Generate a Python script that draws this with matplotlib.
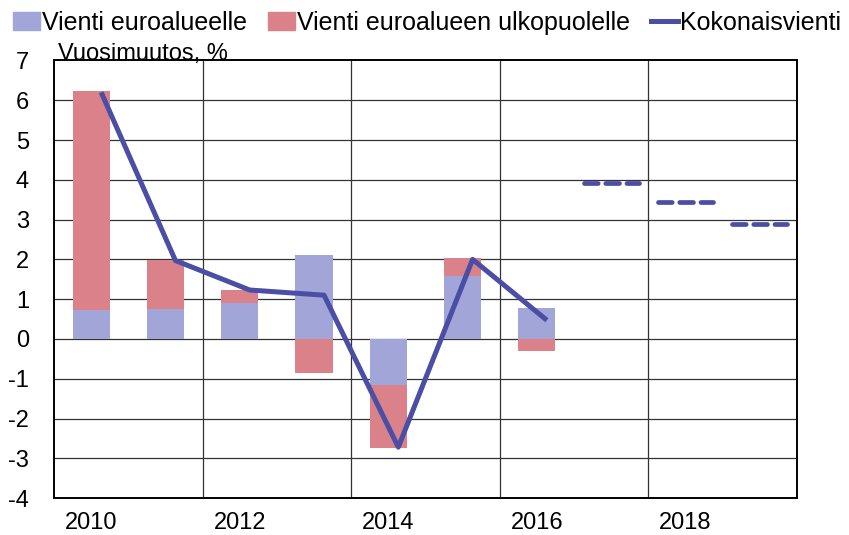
import matplotlib
matplotlib.use("Agg")
import matplotlib.pyplot as plt
from matplotlib.patches import Patch
from matplotlib.lines import Line2D
import numpy as np

plt.rcParams['font.family'] = ['Liberation Sans', 'DejaVu Sans']

years = [2010, 2011, 2012, 2013, 2014, 2015, 2016, 2017, 2018, 2019]
euro_area = [0.72, 0.75, 0.90, 2.11, -1.16, 1.59, 0.78]
outside_euro = [5.50, 1.23, 0.33, -0.86, -1.58, 0.44, -0.30]
total = [6.2, 1.97, 1.23, 1.1, -2.72, 2.0, 0.47]
forecast = [3.92, 3.43, 2.89]
tick_labels = ["2010", "2012", "2014", "2016", "2018"]

c_blue_bar = "#A2A5D8"
c_red_bar = "#DA8189"
c_line = "#4A4EA5"

fig = plt.figure(figsize=(8.49, 5.35), dpi=100)
ax = fig.add_axes([0.0636, 0.069, 0.875, 0.818])

n_hist = len(euro_area)
x = np.arange(n_hist)
eu = np.array(euro_area)
out = np.array(outside_euro)
pos_base = np.where(eu > 0, eu, 0)
neg_base = np.where(eu < 0, eu, 0)
out_bottom = np.where(out >= 0, pos_base, neg_base)

ax.bar(x, eu, width=0.5, color=c_blue_bar, zorder=2)
ax.bar(x, out, width=0.5, bottom=out_bottom, color=c_red_bar, zorder=2)

ax.plot(x + 0.135, total, color=c_line, lw=3.6, zorder=3, solid_capstyle='butt')

for i, v in enumerate(forecast):
    xi = n_hist + i
    ax.plot([xi - 0.37, xi + 0.37], [v, v], color=c_line, lw=3.4,
            dashes=(2.9, 1.6), dash_capstyle='round', zorder=3)

ax.set_xlim(-0.5, len(years) - 0.5)
ax.set_ylim(-4, 7)
ax.set_yticks(range(-4, 8))
ax.set_yticklabels([str(v) for v in range(-4, 8)])
ax.set_xticks(range(0, len(years), 2))
ax.set_xticklabels(tick_labels)
ax.tick_params(axis='both', length=0, labelsize=17, colors='black')
ax.tick_params(axis='y', pad=18)
ax.tick_params(axis='x', pad=10)

for yv in range(-3, 7):
    ax.axhline(yv, color='#333333', lw=0.9, zorder=1)
for xv in [1.5, 3.5, 5.5, 7.5]:
    ax.axvline(xv, color='#333333', lw=0.9, zorder=1)
for s in ax.spines.values():
    s.set_linewidth(1.4)
    s.set_color('black')

ax.text(0.005, 1.002, "Vuosimuutos, %", transform=ax.transAxes, fontsize=17,
        ha='left', va='baseline')

handles = [Patch(color=c_blue_bar), Patch(color=c_red_bar),
           Line2D([0], [0], color=c_line, lw=3.6)]
labels = ["Vienti euroalueelle", "Vienti euroalueen ulkopuolelle", "Kokonaisvienti"]
fig.legend(handles, labels, loc='upper left', bbox_to_anchor=(-0.002, 1.008), ncol=3,
           frameon=False, fontsize=18, handlelength=1.05, handletextpad=0.1,
           columnspacing=0.85, borderaxespad=0.2)

fig.savefig("out.png", dpi=100)
